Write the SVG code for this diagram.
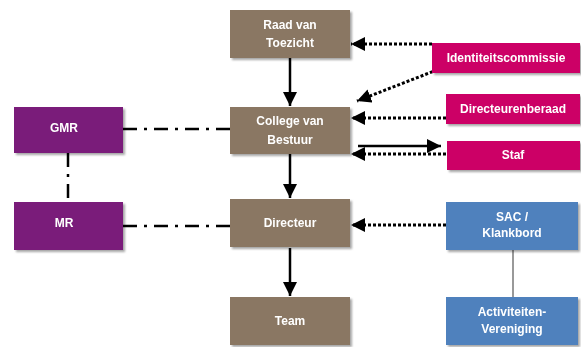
<svg xmlns="http://www.w3.org/2000/svg" width="581" height="347" viewBox="0 0 581 347">
<style>
.box{stroke:none}
.brown{fill:#8a7763}
.mag{fill:#cc0066}
.pur{fill:#7a1f7a}
.blue{fill:#4f81bd}
.t{font-family:"Liberation Sans",Arial,sans-serif;font-weight:bold;font-size:12px;fill:#ffffff;text-anchor:middle}
.solid{stroke:#000;stroke-width:2.5;fill:none}
.dot{stroke:#000;stroke-width:3;fill:none;stroke-dasharray:3 2}
.dd{stroke:#000;stroke-width:2.5;fill:none;stroke-dasharray:14 7 3 7}
.thin{stroke:#555;stroke-width:1.2;fill:none}
</style>
<defs>
<filter id="sh" x="-10%" y="-10%" width="130%" height="140%">
<feDropShadow dx="2" dy="2" stdDeviation="1.2" flood-color="#000" flood-opacity="0.35"/>
</filter>
<marker id="ah" viewBox="0 0 10 10" refX="10" refY="5" markerWidth="14" markerHeight="14" markerUnits="userSpaceOnUse" orient="auto">
<path d="M0,0 L10,5 L0,10 Z" fill="#000"/>
</marker>
</defs>
<g id="connectors">
<line class="solid" x1="290" y1="58" x2="290" y2="106" marker-end="url(#ah)"/>
<line class="solid" x1="290" y1="154" x2="290" y2="198" marker-end="url(#ah)"/>
<line class="solid" x1="290" y1="248" x2="290" y2="296" marker-end="url(#ah)"/>
<line class="dot" x1="432" y1="44" x2="351" y2="44" marker-end="url(#ah)"/>
<line class="dot" x1="442" y1="68" x2="357" y2="101" marker-end="url(#ah)"/>
<line class="dot" x1="446" y1="118" x2="351" y2="118" marker-end="url(#ah)"/>
<line class="solid" x1="358" y1="146" x2="441" y2="146" marker-end="url(#ah)"/>
<line class="dot" x1="446" y1="154" x2="351" y2="154" marker-end="url(#ah)"/>
<line class="dot" x1="446" y1="225" x2="351" y2="225" marker-end="url(#ah)"/>
<line class="thin" x1="513" y1="250" x2="513" y2="297"/>
<line class="dd" x1="123" y1="129" x2="230" y2="129"/>
<line class="dd" x1="123" y1="226" x2="230" y2="226"/>
<line class="dd" x1="68" y1="153" x2="68" y2="202"/>
</g>
<g id="raad" filter="url(#sh)"><rect class="box brown" x="230" y="10" width="120" height="48"/><text class="t" x="290" y="29">Raad van</text><text class="t" x="290" y="47">Toezicht</text></g>
<g id="college" filter="url(#sh)"><rect class="box brown" x="230" y="107" width="120" height="47"/><text class="t" x="290" y="125">College van</text><text class="t" x="290" y="144">Bestuur</text></g>
<g id="directeur" filter="url(#sh)"><rect class="box brown" x="230" y="199" width="120" height="48"/><text class="t" x="290" y="227">Directeur</text></g>
<g id="team" filter="url(#sh)"><rect class="box brown" x="230" y="297" width="120" height="48"/><text class="t" x="290" y="325">Team</text></g>
<g id="identiteitscommissie" filter="url(#sh)"><rect class="box mag" x="432" y="43" width="148" height="30"/><text class="t" x="506" y="62">Identiteitscommissie</text></g>
<g id="directeurenberaad" filter="url(#sh)"><rect class="box mag" x="446" y="94" width="134" height="30"/><text class="t" x="513" y="113">Directeurenberaad</text></g>
<g id="staf" filter="url(#sh)"><rect class="box mag" x="447" y="141" width="133" height="29"/><text class="t" x="513" y="159">Staf</text></g>
<g id="sac" filter="url(#sh)"><rect class="box blue" x="446" y="202" width="132" height="48"/><text class="t" x="512" y="221">SAC /</text><text class="t" x="512" y="237">Klankbord</text></g>
<g id="activiteiten" filter="url(#sh)"><rect class="box blue" x="446" y="297" width="132" height="48"/><text class="t" x="512" y="316">Activiteiten-</text><text class="t" x="512" y="333">Vereniging</text></g>
<g id="gmr" filter="url(#sh)"><rect class="box pur" x="14" y="107" width="109" height="46"/><text class="t" x="64" y="132">GMR</text></g>
<g id="mr" filter="url(#sh)"><rect class="box pur" x="14" y="202" width="109" height="48"/><text class="t" x="64" y="227">MR</text></g>
</svg>
